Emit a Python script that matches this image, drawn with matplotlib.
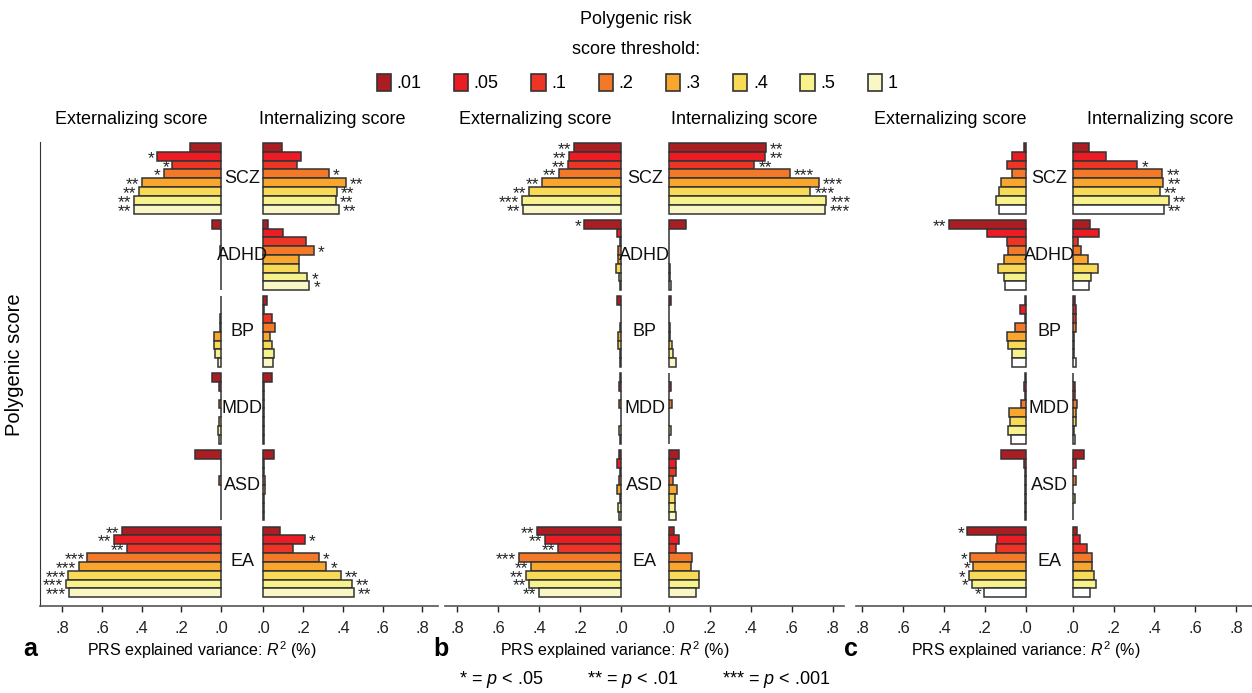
import numpy as np
import matplotlib
matplotlib.use('Agg')
import matplotlib.pyplot as plt
from matplotlib.patches import Patch

plt.rcParams['font.family'] = ['Liberation Sans', 'DejaVu Sans']
plt.rcParams['mathtext.fontset'] = 'custom'
plt.rcParams['mathtext.rm'] = 'Liberation Sans'
plt.rcParams['mathtext.it'] = 'Liberation Sans:italic'

# thresholds and disorders
thresholds = ['.01', '.05', '.1', '.2', '.3', '.4', '.5', '1']
disorders = ['SCZ', 'ADHD', 'BP', 'MDD', 'ASD', 'EA']
tick_vals = [0.8, 0.6, 0.4, 0.2, 0.0]
tick_labels = ['.8', '.6', '.4', '.2', '.0']

# R2 values (%), one list of 8 thresholds per disorder
a_ext = [[0.155, 0.324, 0.248, 0.29, 0.396, 0.413, 0.44, 0.437],
         [0.044, 0.003, 0.002, 0.008, 0.003, 0.002, 0.002, 0.002],
         [0.002, 0.003, 0.006, 0.008, 0.037, 0.035, 0.032, 0.018],
         [0.045, 0.01, 0.003, 0.01, 0.003, 0.012, 0.015, 0.01],
         [0.13, 0.002, 0.003, 0.01, 0.002, 0.002, 0.002, 0.002],
         [0.50, 0.537, 0.472, 0.673, 0.715, 0.769, 0.781, 0.767]]
a_int = [[0.095, 0.19, 0.167, 0.328, 0.413, 0.37, 0.365, 0.38],
         [0.023, 0.10, 0.213, 0.252, 0.177, 0.177, 0.22, 0.23],
         [0.017, 0.002, 0.045, 0.06, 0.035, 0.042, 0.055, 0.049],
         [0.045, 0.002, 0.002, 0.005, 0.002, 0.002, 0.001, 0.001],
         [0.053, 0.002, 0.002, 0.006, 0.006, 0.002, 0.002, 0.002],
         [0.083, 0.207, 0.147, 0.277, 0.315, 0.388, 0.443, 0.455]]
b_ext = [[0.229, 0.252, 0.259, 0.301, 0.387, 0.447, 0.483, 0.48],
         [0.18, 0.018, 0.007, 0.013, 0.013, 0.026, 0.011, 0.006],
         [0.018, 0.002, 0.002, 0.006, 0.016, 0.013, 0.006, 0.003],
         [0.003, 0.011, 0.002, 0.011, 0.002, 0.002, 0.011, 0.003],
         [0.008, 0.018, 0.003, 0.011, 0.018, 0.003, 0.015, 0.011],
         [0.408, 0.369, 0.309, 0.499, 0.437, 0.465, 0.45, 0.402]]
b_int = [[0.473, 0.47, 0.418, 0.59, 0.732, 0.691, 0.769, 0.764],
         [0.083, 0.002, 0.002, 0.002, 0.002, 0.008, 0.008, 0.01],
         [0.011, 0.002, 0.002, 0.006, 0.008, 0.018, 0.023, 0.033],
         [0.003, 0.009, 0.003, 0.018, 0.003, 0.003, 0.011, 0.003],
         [0.049, 0.033, 0.033, 0.021, 0.041, 0.031, 0.029, 0.033],
         [0.024, 0.05, 0.034, 0.112, 0.11, 0.15, 0.15, 0.135]]
c_ext = [[0.01, 0.068, 0.09, 0.068, 0.12, 0.129, 0.147, 0.132],
         [0.375, 0.187, 0.093, 0.088, 0.104, 0.137, 0.104, 0.103],
         [0.002, 0.028, 0.002, 0.05, 0.09, 0.088, 0.065, 0.065],
         [0.002, 0.01, 0.002, 0.023, 0.083, 0.075, 0.085, 0.073],
         [0.12, 0.008, 0.002, 0.003, 0.002, 0.002, 0.002, 0.002],
         [0.285, 0.14, 0.147, 0.27, 0.258, 0.279, 0.264, 0.205]]
c_int = [[0.08, 0.161, 0.316, 0.438, 0.443, 0.425, 0.471, 0.445],
         [0.083, 0.13, 0.028, 0.042, 0.075, 0.124, 0.088, 0.081],
         [0.011, 0.016, 0.016, 0.016, 0.005, 0.008, 0.006, 0.015],
         [0.002, 0.011, 0.01, 0.023, 0.015, 0.015, 0.008, 0.01],
         [0.054, 0.018, 0.003, 0.015, 0.003, 0.01, 0.003, 0.002],
         [0.02, 0.034, 0.068, 0.093, 0.096, 0.103, 0.114, 0.086]]

# number of significance stars per bar
a_ext_sig = {'SCZ': [0, 1, 1, 1, 2, 2, 2, 2], 'EA': [2, 2, 2, 3, 3, 3, 3, 3]}
a_int_sig = {'SCZ': [0, 0, 0, 1, 2, 2, 2, 2], 'ADHD': [0, 0, 0, 1, 0, 0, 1, 1],
             'EA': [0, 1, 0, 1, 1, 2, 2, 2]}
b_ext_sig = {'SCZ': [2, 2, 2, 2, 2, 2, 3, 2], 'ADHD': [1, 0, 0, 0, 0, 0, 0, 0],
             'EA': [2, 2, 2, 3, 2, 2, 2, 2]}
b_int_sig = {'SCZ': [2, 2, 2, 3, 3, 3, 3, 3]}
c_ext_sig = {'ADHD': [2, 0, 0, 0, 0, 0, 0, 0], 'EA': [1, 0, 0, 1, 1, 1, 1, 1]}
c_int_sig = {'SCZ': [0, 0, 1, 2, 2, 2, 2, 2]}

colors = ['#A91D23', '#EC1C24', '#EE3424', '#F37828', '#F8A62E', '#F9DA56', '#F8F28C', '#FAF7C6']
colors_c = colors[:7] + ['#FFFFFF']
EDGE = '#333333'
GROUP_STEP = 8.7


def draw_panel(ax, ext, inn, ext_sig, int_sig, gap, cols, xlim, show_left):
    for g, name in enumerate(disorders):
        y = g * GROUP_STEP + np.arange(8) + 0.5
        ev = np.array(ext[g])
        iv = np.array(inn[g])
        ax.barh(y, -ev, height=1.0, left=0, color=cols, edgecolor=EDGE, linewidth=1.1)
        ax.barh(y, iv, height=1.0, left=gap, color=cols, edgecolor=EDGE, linewidth=1.1)
        es = ext_sig.get(name, [0] * 8)
        ins = int_sig.get(name, [0] * 8)
        for i in range(8):
            if es[i]:
                ax.annotate('*' * es[i], xy=(-ev[i], y[i]), xytext=(-2, -1.5),
                            textcoords='offset points', ha='right', va='center',
                            fontsize=12.5, color='#222222')
            if ins[i]:
                ax.annotate('*' * ins[i], xy=(gap + iv[i], y[i]), xytext=(3, -1.5),
                            textcoords='offset points', ha='left', va='center',
                            fontsize=12.5, color='#222222')
        ax.text(gap / 2, g * GROUP_STEP + 4, name, ha='center', va='center',
                fontsize=13, color='#111111')

    ticks = [-v for v in tick_vals] + [gap + v for v in tick_vals[::-1]]
    ax.set_xticks(ticks)
    ax.set_xticklabels(tick_labels + tick_labels[::-1], fontsize=12)
    ax.tick_params(axis='x', length=4, width=1.0, pad=7, colors='#222222')
    ax.set_yticks([])
    ax.set_xlim(*xlim)
    ax.set_ylim(GROUP_STEP * 5 + 9, -0.15)
    for s in ['top', 'right']:
        ax.spines[s].set_visible(False)
    ax.spines['left'].set_visible(show_left)
    ax.spines['left'].set_color('#333333')
    ax.spines['bottom'].set_color('#555555')
    ax.spines['bottom'].set_linewidth(1.2)


fig = plt.figure(figsize=(12.52, 6.93), dpi=100)
bottom, height = 0.1255, 0.670
ax_a = fig.add_axes([0.0319, bottom, 0.3179, height])
ax_b = fig.add_axes([0.3554, bottom, 0.3187, height])
ax_c = fig.add_axes([0.6837, bottom, 0.3163, height])

draw_panel(ax_a, a_ext, a_int, a_ext_sig, a_int_sig, 0.213, colors, (-0.912, 1.091), True)
draw_panel(ax_b, b_ext, b_int, b_ext_sig, b_int_sig, 0.233, colors, (-0.859, 1.088), False)
draw_panel(ax_c, c_ext, c_int, c_ext_sig, c_int_sig, 0.23, colors_c, (-0.83, 1.107), False)


def px(x, y):
    return x / 1252, 1 - y / 693


# legend + title
fig.text(*px(636, 20), 'Polygenic risk', ha='center', va='center', fontsize=13)
fig.text(*px(636, 50), 'score threshold:', ha='center', va='center', fontsize=13)
handles = [Patch(facecolor=c, edgecolor=EDGE, linewidth=1.2) for c in colors]
fig.legend(handles, thresholds, loc='center', bbox_to_anchor=px(637, 83), ncol=8,
           frameon=False, handlelength=0.8, handleheight=1.1, handletextpad=0.3,
           columnspacing=1.8, fontsize=13)

# facet headers
for xh, lab in zip([131, 332, 535, 744, 950, 1160],
                   ['Externalizing score', 'Internalizing score'] * 3):
    fig.text(*px(xh, 119), lab, ha='center', va='center', fontsize=13)

fig.text(*px(15, 365), 'Polygenic score', rotation=90, ha='center', va='center', fontsize=14.5)

for xl, xt, letter in zip([30, 441, 851], [202, 615, 1026], ['a', 'b', 'c']):
    fig.text(*px(xl, 649), letter, ha='center', va='center', fontsize=18, fontweight='bold')
    fig.text(*px(xt, 650), 'PRS explained variance: $R^2$ (%)', ha='center', va='center',
             fontsize=11.5)

fig.text(*px(645, 680), '* = $p$ < .05         ** = $p$ < .01         *** = $p$ < .001',
         ha='center', va='center', fontsize=13)

fig.savefig('out.png', dpi=100)
